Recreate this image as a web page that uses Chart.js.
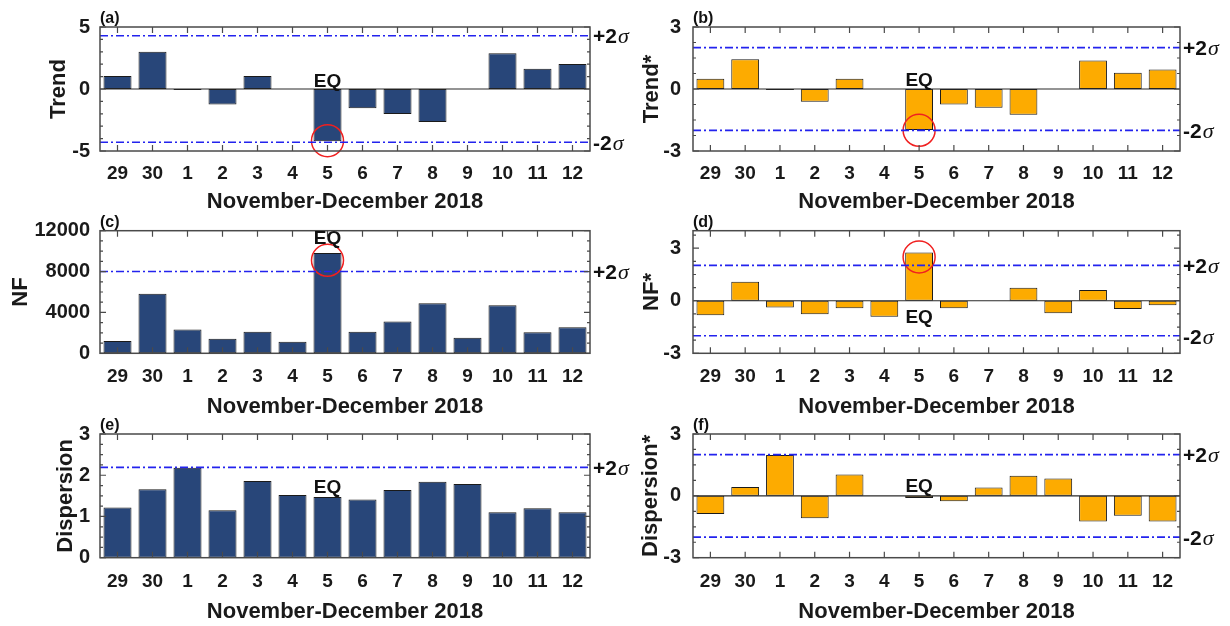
<!DOCTYPE html>
<html><head><meta charset="utf-8">
<script src="https://cdn.jsdelivr.net/npm/chart.js@4.4.0/dist/chart.umd.min.js"></script>
<style>
html,body{margin:0;padding:0;background:#fff;width:1230px;height:626px;overflow:hidden}
canvas{position:absolute;left:0;top:0}
</style></head><body>
<canvas id="ca" width="1230" height="626"></canvas>
<canvas id="cb" width="1230" height="626"></canvas>
<canvas id="cc" width="1230" height="626"></canvas>
<canvas id="cd" width="1230" height="626"></canvas>
<canvas id="ce" width="1230" height="626"></canvas>
<canvas id="cf" width="1230" height="626"></canvas>
<script>
// ---- data ----
const days = ['29','30','1','2','3','4','5','6','7','8','9','10','11','12'];
const xTitle = 'November-December 2018';
const eqDay = '5';

const trend          = [1.05, 3.0, -0.08, -1.26, 1.05, 0, -4.22, -1.56, -2.02, -2.66, 0, 2.88, 1.64, 2.02];
const trendStar      = [0.50, 1.44, -0.05, -0.62, 0.50, 0, -1.98, -0.75, -0.91, -1.25, 0, 1.38, 0.79, 0.94];
const nf             = [1200, 5820, 2340, 1430, 2110, 1140, 9820, 2110, 3120, 4910, 1530, 4710, 2050, 2540];
const nfStar         = [-0.83, 1.09, -0.38, -0.77, -0.43, -0.91, 2.75, -0.43, 0, 0.74, -0.72, 0.62, -0.47, -0.26];
const dispersion     = [1.22, 1.66, 2.18, 1.15, 1.86, 1.52, 1.47, 1.41, 1.64, 1.84, 1.79, 1.10, 1.20, 1.10];
const dispersionStar = [-0.88, 0.43, 1.98, -1.09, 1.03, 0, -0.10, -0.26, 0.40, 0.98, 0.84, -1.24, -0.96, -1.24];

const ticksTrend = [-5, 0, 5];
const ticksStar  = [-3, 0, 3];
const ticksNF    = [0, 4000, 8000, 12000];
const ticksDisp  = [0, 1, 2, 3];

const sigmaTrend = [4.3, -4.3];
const sigmaStar  = [2, -2];
const sigmaNF    = [8000];
const sigmaNFStar = [2.02, -2];
const sigmaDisp  = [2.19];
const sigmaDispStar = [2, -2];

const circleTrend = -4.17;
const circleTrendStar = -2.0;
const circleNF = 9100;
const circleNFStar = 2.5;

// ---- styles / layout ----
const NAVY = '#284679', ORANGE = '#FDAB00';
const SANS = '"Liberation Sans", Arial, Helvetica, sans-serif';
const SERIF = '"Liberation Serif", "Times New Roman", serif';
const XH = 66;
Chart.defaults.font.family = SANS;
Chart.defaults.color = '#1a1a1a';

const panels = [
  {canvas:'ca', tag:'(a)', yTitle:'Trend', values:trend, color:NAVY, min:-5, max:5, ticks:ticksTrend, minor:1,
   sigma:sigmaTrend, circle:circleTrend, eqAnchor:'zero', eqDy:-2.5, col:0, box:{l:100,t:27,r:590,b:151}, yTitleX:59, xTitleY:201.7, xPad:11},
  {canvas:'cb', tag:'(b)', yTitle:'Trend*', values:trendStar, color:ORANGE, min:-3, max:3, ticks:ticksStar, minor:0.75,
   sigma:sigmaStar, circle:circleTrendStar, eqAnchor:'zero', eqDy:-3.5, col:1, box:{l:693,t:27,r:1180,b:151}, yTitleX:652, xTitleY:201.7, xPad:11},
  {canvas:'cc', tag:'(c)', yTitle:'NF', values:nf, color:NAVY, min:0, max:12000, ticks:ticksNF, minor:1000,
   sigma:sigmaNF, circle:circleNF, eqAnchor:'bar', eqDy:-9, col:0, box:{l:100,t:230.7,r:590,b:353.3}, yTitleX:21, xTitleY:406.7, xPad:12},
  {canvas:'cd', tag:'(d)', yTitle:'NF*', values:nfStar, color:ORANGE, min:-3, max:4, ticks:ticksStar, minor:0.75,
   sigma:sigmaNFStar, circle:circleNFStar, eqAnchor:'zero', eqDy:22, col:1, box:{l:693,t:230.7,r:1180,b:353.3}, yTitleX:652, xTitleY:406.7, xPad:12},
  {canvas:'ce', tag:'(e)', yTitle:'Dispersion', values:dispersion, color:NAVY, min:0, max:3, ticks:ticksDisp, minor:0.25,
   sigma:sigmaDisp, circle:null, eqAnchor:'bar', eqDy:-4, col:0, box:{l:100,t:434,r:590,b:557.7}, yTitleX:66, xTitleY:611.7, xPad:12.5},
  {canvas:'cf', tag:'(f)', yTitle:'Dispersion*', values:dispersionStar, color:ORANGE, min:-3, max:3, ticks:ticksStar, minor:0.75,
   sigma:sigmaDispStar, circle:null, eqAnchor:'zero', eqDy:-4, col:1, box:{l:693,t:434,r:1180,b:557.7}, yTitleX:651, xTitleY:611.7, xPad:12.5}
];

const framePlugin = {
  id: 'frame',
  afterDatasetsDraw(chart, args, o) {
    const {ctx, chartArea: a} = chart;
    const xs = chart.scales.x, ys = chart.scales.y;
    ctx.save();
    // zero line
    if (o.min < 0) {
      const y0 = ys.getPixelForValue(0);
      ctx.strokeStyle = '#2a2a2a'; ctx.lineWidth = 1.2; ctx.setLineDash([]);
      ctx.beginPath(); ctx.moveTo(a.left, y0); ctx.lineTo(a.right, y0); ctx.stroke();
    }
    // sigma lines
    ctx.strokeStyle = '#2323ee'; ctx.lineWidth = 1.6; ctx.setLineDash([8, 3, 2, 3]);
    o.sigma.forEach(v => {
      const y = ys.getPixelForValue(v);
      ctx.beginPath(); ctx.moveTo(a.left, y); ctx.lineTo(a.right, y); ctx.stroke();
    });
    ctx.setLineDash([]);
    // box
    ctx.strokeStyle = '#4a4a4a'; ctx.lineWidth = 1.5;
    ctx.strokeRect(a.left, a.top, a.right - a.left, a.bottom - a.top);
    // x ticks (inward, top and bottom)
    ctx.lineWidth = 1.2;
    ctx.beginPath();
    days.forEach((d, i) => {
      const x = xs.getPixelForValue(i);
      ctx.moveTo(x, a.top); ctx.lineTo(x, a.top + 6);
      ctx.moveTo(x, a.bottom); ctx.lineTo(x, a.bottom - 6);
    });
    // y ticks (major + minor, both sides)
    o.ticks.forEach(v => {
      const y = ys.getPixelForValue(v);
      ctx.moveTo(a.left, y); ctx.lineTo(a.left + 6, y);
      ctx.moveTo(a.right, y); ctx.lineTo(a.right - 6, y);
    });
    for (let v = o.min; v <= o.max + 1e-9; v += o.minor) {
      if (o.ticks.some(t => Math.abs(t - v) < 1e-6)) continue;
      const y = ys.getPixelForValue(v);
      ctx.moveTo(a.left, y); ctx.lineTo(a.left + 3, y);
      ctx.moveTo(a.right, y); ctx.lineTo(a.right - 3, y);
    }
    ctx.stroke();
    // panel tag
    ctx.fillStyle = '#111';
    ctx.font = 'bold 16px ' + SANS;
    ctx.textAlign = 'left'; ctx.textBaseline = 'alphabetic';
    ctx.fillText(o.tag, a.left, a.top - 4);
    // sigma labels
    o.sigma.forEach(v => {
      const y = ys.getPixelForValue(v) + 2;
      const s = v > 0 ? '+2' : '-2';
      ctx.font = 'bold 21px ' + SANS;
      ctx.textBaseline = 'middle';
      ctx.fillText(s, a.right + 3, y);
      const w = ctx.measureText(s).width;
      ctx.font = 'italic 22px ' + SERIF;
      ctx.fillText('\u03C3', a.right + 3 + w + 1, y);
    });
    // EQ label
    const ei = days.indexOf(eqDay);
    const ex = xs.getPixelForValue(ei);
    const base = o.eqAnchor === 'zero' ? 0 : o.values[ei];
    ctx.font = 'bold 19px ' + SANS;
    ctx.textAlign = 'center'; ctx.textBaseline = 'alphabetic';
    ctx.fillText('EQ', ex, ys.getPixelForValue(base) + o.eqDy);
    ctx.restore();
  }
};

panels.forEach(p => {
  const padLeft = p.col === 0 ? 0 : 600;
  const yW = p.box.l - padLeft;
  const datasets = [{
    type: 'bar', data: p.values, backgroundColor: p.color, borderColor: '#1a1a1a', borderWidth: 1,
    borderSkipped: false, barPercentage: 0.8, categoryPercentage: 1.0, order: 2
  }];
  if (p.circle !== null) {
    datasets.push({
      type: 'line', data: days.map(d => d === eqDay ? p.circle : null), showLine: false,
      pointRadius: 16, pointHoverRadius: 16, pointBorderColor: '#f02020', pointBackgroundColor: 'rgba(0,0,0,0)',
      pointBorderWidth: 1.5, clip: false, order: 0
    });
  }
  new Chart(document.getElementById(p.canvas), {
    data: {labels: days, datasets},
    options: {
      responsive: false, animation: false, events: [],
      layout: {padding: {left: padLeft, right: 1230 - p.box.r, top: p.box.t, bottom: 626 - p.box.b - XH}},
      plugins: {legend: {display: false}, tooltip: {enabled: false}, frame: p},
      scales: {
        x: {
          type: 'category', offset: true,
          grid: {display: false, drawTicks: false}, border: {display: false},
          ticks: {font: {size: 19, weight: 'bold'}, padding: p.xPad, maxRotation: 0, autoSkip: false, color: '#1a1a1a'},
          title: {display: true, text: xTitle, font: {size: 22, weight: 'bold', lineHeight: 1},
                  padding: {top: 0, bottom: p.box.b + XH - 11 - p.xTitleY}, color: '#1a1a1a'},
          afterFit(s) { s.height = XH; }
        },
        y: {
          type: 'linear', min: p.min, max: p.max,
          grid: {display: false, drawTicks: false}, border: {display: false},
          ticks: {font: {size: 20, weight: 'bold'}, padding: p.col === 0 ? 10 : 12, color: '#1a1a1a',
                  callback: v => String(v)},
          afterBuildTicks(s) { s.ticks = p.ticks.map(v => ({value: v})); },
          title: {display: true, text: p.yTitle, font: {size: 22, weight: 'bold', lineHeight: 1},
                  padding: {top: p.yTitleX - padLeft - 11, bottom: 0}, color: '#1a1a1a'},
          afterFit(s) { s.width = yW; }
        }
      }
    },
    plugins: [framePlugin]
  });
});
</script>
</body></html>
